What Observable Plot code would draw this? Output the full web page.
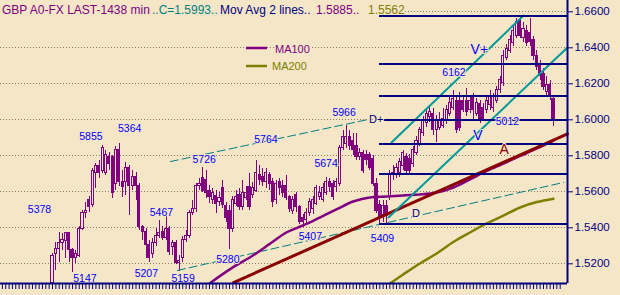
<!DOCTYPE html>
<html><head><meta charset="utf-8">
<script src="https://cdn.jsdelivr.net/npm/d3@7"></script>
<script src="https://cdn.jsdelivr.net/npm/@observablehq/plot@0.6"></script>
<style>html,body{margin:0;padding:0;background:#F5E6C8;overflow:hidden}</style>
</head><body><div id="chart"></div>
<script>
const BG = "#F5E6C8", PURPLE = "#800080", OLIVE = "#808000", NAVY = "#000080",
      TEAL = "#009999", DTEAL = "#008080", DRED = "#8B0000", BLUE = "#0000FF";

// OHLC per bar (bar index 0..150)
const open = [
1.5096,1.5257,1.5285,1.5313,1.5324,1.5369,1.5274,1.5235,1.5246,1.5396,
1.5485,1.5557,1.5524,1.5707,1.5746,1.5718,1.5707,1.5791,1.5791,1.5646,
1.5835,1.5652,1.5652,1.5730,1.5630,1.5685,1.5635,1.5402,1.5374,1.5302,
1.5257,1.5313,1.5357,1.5374,1.5341,1.5391,1.5291,1.5313,1.5207,1.5235,
1.5330,1.5352,1.5480,1.5502,1.5630,1.5674,1.5663,1.5607,1.5552,1.5574,
1.5541,1.5619,1.5519,1.5496,1.5396,1.5535,1.5580,1.5513,1.5563,1.5624,
1.5580,1.5607,1.5691,1.5685,1.5652,1.5696,1.5657,1.5552,1.5652,1.5630,
1.5635,1.5569,1.5496,1.5580,1.5513,1.5457,1.5441,1.5480,1.5507,1.5535,
1.5569,1.5552,1.5596,1.5652,1.5646,1.5624,1.5646,1.5841,1.5868,1.5902,
1.5885,1.5857,1.5796,1.5813,1.5802,1.5802,1.5785,1.5646,1.5524,1.5469,
1.5519,1.5569,1.5691,1.5696,1.5702,1.5741,1.5791,1.5785,1.5757,1.5818,
1.5868,1.5924,1.5980,1.6013,1.6035,1.5941,1.5957,1.5968,1.5996,1.6035,
1.6068,1.6107,1.6107,1.6107,1.6107,1.6052,1.6124,1.6035,1.6090,1.6068,
1.6052,1.6080,1.6063,1.6107,1.6163,1.6202,1.6346,1.6385,1.6424,1.6468,
1.6552,1.6452,1.6496,1.6485,1.6441,1.6357,1.6307,1.6252,1.6152,1.6191,
1.6118];
const high = [
1.5257,1.5318,1.5374,1.5369,1.5374,1.5374,1.5285,1.5274,1.5407,1.5496,
1.5541,1.5574,1.5730,1.5757,1.5774,1.5857,1.5830,1.5818,1.5802,1.5852,
1.5869,1.5718,1.5763,1.5746,1.5718,1.5707,1.5646,1.5413,1.5396,1.5330,
1.5341,1.5396,1.5441,1.5407,1.5469,1.5407,1.5330,1.5330,1.5246,1.5352,
1.5385,1.5496,1.5552,1.5646,1.5674,1.5735,1.5718,1.5635,1.5619,1.5607,
1.5596,1.5663,1.5541,1.5524,1.5574,1.5607,1.5619,1.5663,1.5630,1.5702,
1.5652,1.5774,1.5746,1.5730,1.5730,1.5707,1.5674,1.5663,1.5674,1.5663,
1.5691,1.5580,1.5574,1.5596,1.5524,1.5474,1.5507,1.5563,1.5574,1.5635,
1.5630,1.5646,1.5680,1.5674,1.5663,1.5674,1.5857,1.5941,1.5968,1.5941,
1.5924,1.5924,1.5841,1.5830,1.5830,1.5818,1.5802,1.5674,1.5552,1.5552,
1.5552,1.5718,1.5746,1.5757,1.5785,1.5830,1.5813,1.5807,1.5852,1.5907,
1.5957,1.6018,1.6063,1.6080,1.6063,1.6024,1.6041,1.6063,1.6080,1.6124,
1.6163,1.6130,1.6152,1.6135,1.6174,1.6135,1.6146,1.6118,1.6107,1.6090,
1.6135,1.6163,1.6146,1.6185,1.6241,1.6385,1.6418,1.6468,1.6518,1.6563,
1.6580,1.6541,1.6524,1.6563,1.6463,1.6385,1.6330,1.6285,1.6241,1.6219,
1.6135];
const low = [
1.5091,1.5163,1.5207,1.5274,1.5230,1.5207,1.5152,1.5202,1.5235,1.5385,
1.5452,1.5485,1.5513,1.5619,1.5674,1.5702,1.5691,1.5718,1.5563,1.5607,
1.5630,1.5569,1.5580,1.5469,1.5607,1.5552,1.5385,1.5330,1.5230,1.5207,
1.5230,1.5296,1.5341,1.5330,1.5330,1.5246,1.5246,1.5196,1.5157,1.5207,
1.5318,1.5341,1.5469,1.5485,1.5607,1.5596,1.5563,1.5535,1.5530,1.5480,
1.5519,1.5507,1.5430,1.5280,1.5374,1.5519,1.5496,1.5496,1.5552,1.5496,
1.5563,1.5596,1.5635,1.5630,1.5619,1.5607,1.5513,1.5530,1.5580,1.5569,
1.5552,1.5485,1.5474,1.5485,1.5419,1.5402,1.5424,1.5463,1.5474,1.5524,
1.5552,1.5541,1.5580,1.5596,1.5552,1.5596,1.5630,1.5830,1.5841,1.5830,
1.5802,1.5774,1.5774,1.5702,1.5746,1.5718,1.5630,1.5480,1.5413,1.5430,
1.5424,1.5552,1.5663,1.5674,1.5680,1.5718,1.5696,1.5702,1.5735,1.5802,
1.5852,1.5907,1.5957,1.5985,1.5913,1.5874,1.5941,1.5952,1.5974,1.6018,
1.6052,1.5924,1.5935,1.6041,1.6018,1.6035,1.5996,1.6018,1.5980,1.5996,
1.6035,1.6052,1.6041,1.6090,1.6146,1.6185,1.6330,1.6368,1.6407,1.6452,
1.6452,1.6430,1.6407,1.6407,1.6330,1.6274,1.6219,1.6163,1.6135,1.6107,
1.5963];
const close = [
1.5246,1.5280,1.5318,1.5330,1.5369,1.5274,1.5235,1.5252,1.5396,1.5485,
1.5496,1.5513,1.5718,1.5746,1.5707,1.5846,1.5802,1.5757,1.5591,1.5830,
1.5657,1.5624,1.5735,1.5630,1.5685,1.5630,1.5402,1.5374,1.5302,1.5235,
1.5313,1.5357,1.5369,1.5346,1.5391,1.5263,1.5313,1.5207,1.5218,1.5330,
1.5357,1.5480,1.5507,1.5630,1.5646,1.5607,1.5591,1.5569,1.5591,1.5535,
1.5563,1.5524,1.5452,1.5396,1.5552,1.5569,1.5513,1.5596,1.5591,1.5513,
1.5619,1.5702,1.5668,1.5657,1.5707,1.5646,1.5541,1.5646,1.5619,1.5596,
1.5563,1.5507,1.5552,1.5513,1.5430,1.5430,1.5485,1.5541,1.5552,1.5619,
1.5596,1.5619,1.5652,1.5624,1.5569,1.5652,1.5841,1.5902,1.5902,1.5857,
1.5830,1.5791,1.5818,1.5718,1.5774,1.5735,1.5646,1.5496,1.5457,1.5519,
1.5463,1.5696,1.5707,1.5730,1.5768,1.5813,1.5713,1.5718,1.5830,1.5885,
1.5941,1.5996,1.6035,1.6041,1.5941,1.5996,1.5996,1.6007,1.6052,1.6096,
1.6118,1.5941,1.5952,1.6052,1.6041,1.6107,1.6052,1.6096,1.6007,1.6007,
1.6107,1.6135,1.6124,1.6163,1.6219,1.6357,1.6396,1.6441,1.6496,1.6541,
1.6468,1.6507,1.6424,1.6430,1.6352,1.6296,1.6241,1.6180,1.6191,1.6130,
1.5993];

// moving averages (bar index, value)
const ma100Idx = [47,54,60,65,70,75,80,85,90,95,100,105,110,115,120,125,130,135,140,145,150];
const ma100Val = [1.5091,1.5180,1.5246,1.5310,1.5374,1.5413,1.5457,1.5502,1.5546,1.5569,1.5574,1.5580,1.5585,1.5596,1.5624,1.5669,1.5716,1.5757,1.5799,1.5841,1.5885];
const ma200Idx = [101,105,110,115,120,125,130,135,140,145,150];
const ma200Val = [1.5091,1.5141,1.5202,1.5257,1.5321,1.5374,1.5424,1.5468,1.5513,1.5543,1.5562];

// drawn trend lines (bar index, value)
const redIdx = [54.2, 154.19],   redVal = [1.5096, 1.5922];
const chanUpIdx = [101.5, 141.0], chanUpVal = [1.5874, 1.6579];
const chanLoIdx = [100.6, 154.19], chanLoVal = [1.5457, 1.6402];
const dashUpIdx = [35.3, 94.6],   dashUpVal = [1.5768, 1.6002];
const dashLoIdx = [37.4, 153.0],  dashLoVal = [1.5163, 1.5652];
const levels = [1.6579, 1.6311, 1.6135, 1.6000, 1.5863, 1.5698, 1.5422];
const levelStart = 98, levelEnd = 154.19;

// annotations
const labText = ["5378","5855","5364","5147","5207","5467","5159","5726","5280","5764","5407","5674","5966","5409","6162","5012"];
const labIdx  = [-3.9, 11.5, 23.1, 9.7, 28.1, 32.6, 39.1, 45.4, 52.5, 63.9, 77.2, 81.9, 87.3, 98.8, 120.2, 136.2];
const labVal  = [1.5502,1.5905,1.5952,1.5116,1.5146,1.5485,1.5116,1.5780,1.5224,1.5891,1.5349,1.5755,1.6038,1.5341,1.6263,1.5988];
const bigText = ["V+","V","A"], bigIdx = [127.8,127.4,135.2], bigVal = [1.6391,1.5915,1.5835], bigColor = [BLUE,BLUE,DRED];
const dText = ["D","D+"], dIdx = [108.8, 96.9], dVal = [1.5480, 1.6000];

// axes
const yTicks = [1.52,1.54,1.56,1.58,1.60,1.62,1.64,1.66];
const combTicks = d3.range(-15, 153);
const xDomain = [-15.57, 154.19], yDomain = [1.50906, 1.66628];

const bars = open.map((o, i) => ({i, open: o, high: high[i], low: low[i], close: close[i]}));
const up = bars.filter(d => d.close >= d.open), down = bars.filter(d => d.close < d.open);
const pline = (idx, val, opts) => Plot.line(idx, {x: d => d, y: (d, k) => val[k], ...opts});
const FONT = "'Liberation Sans', Arial, sans-serif";

const chart = Plot.plot({
  width: 620, height: 295,
  marginLeft: 0, marginRight: 53, marginTop: 0, marginBottom: 12,
  style: {background: BG, color: NAVY, fontFamily: FONT, fontSize: "11.5px"},
  x: {domain: xDomain, axis: "bottom", ticks: combTicks, tickFormat: () => "", tickSize: 6, label: null},
  y: {domain: yDomain, axis: "right", ticks: yTicks, tickFormat: d => d.toFixed(4), tickSize: 5, tickPadding: 2, label: null},
  marks: [
    Plot.ruleY(yTicks, {stroke: "#8C7B66", strokeDasharray: "1,2", shapeRendering: "crispEdges"}),
    Plot.ruleX(bars, {x: "i", y1: "low", y2: "high", stroke: PURPLE, strokeWidth: 1, shapeRendering: "crispEdges"}),
    Plot.rect(up, {x1: d => d.i - 0.32, x2: d => d.i + 0.32, y1: "open", y2: "close", fill: BG, stroke: PURPLE, strokeWidth: 1, shapeRendering: "crispEdges"}),
    Plot.rect(down, {x1: d => d.i - 0.32, x2: d => d.i + 0.32, y1: "open", y2: "close", fill: PURPLE, stroke: PURPLE, strokeWidth: 1, shapeRendering: "crispEdges"}),
    pline(dashUpIdx, dashUpVal, {stroke: DTEAL, strokeWidth: 1, strokeDasharray: "8,4"}),
    pline(dashLoIdx, dashLoVal, {stroke: DTEAL, strokeWidth: 1, strokeDasharray: "8,4"}),
    pline(ma200Idx, ma200Val, {stroke: OLIVE, strokeWidth: 2.5, curve: "monotone-x"}),
    pline(ma100Idx, ma100Val, {stroke: PURPLE, strokeWidth: 2.5, curve: "monotone-x"}),
    pline(redIdx, redVal, {stroke: DRED, strokeWidth: 3}),
    pline(chanUpIdx, chanUpVal, {stroke: TEAL, strokeWidth: 2}),
    pline(chanLoIdx, chanLoVal, {stroke: TEAL, strokeWidth: 2}),
    Plot.ruleY(levels, {x1: levelStart, x2: levelEnd, stroke: NAVY, strokeWidth: 2, shapeRendering: "crispEdges"}),
    Plot.text(labText, {x: (d, k) => labIdx[k], y: (d, k) => labVal[k], text: d => d, fill: BLUE, stroke: BG, strokeWidth: 2, paintOrder: "stroke", fontSize: 10.5}),
    Plot.text(bigText, {x: (d, k) => bigIdx[k], y: (d, k) => bigVal[k], text: d => d, fill: (d, k) => bigColor[k], stroke: BG, strokeWidth: 2, paintOrder: "stroke", fontSize: 14}),
    Plot.text(dText, {x: (d, k) => dIdx[k], y: (d, k) => dVal[k], text: d => d, fill: NAVY, stroke: BG, strokeWidth: 2, paintOrder: "stroke", fontSize: 11}),
    Plot.ruleX([xDomain[1]], {stroke: NAVY, strokeWidth: 2}),
    Plot.ruleY([yDomain[0]], {stroke: NAVY, strokeWidth: 2})
  ]
});
document.getElementById("chart").appendChild(chart);

const svg = d3.select(chart);
// header line
svg.append("rect").attr("x", 0).attr("y", 2).attr("width", 405).attr("height", 11.5).attr("fill", BG);
const title = svg.append("text").attr("y", 14).attr("font-size", 12)
  .attr("text-anchor", "start").attr("font-family", FONT);
const titleParts = [
  ["GBP A0-FX LAST-1438 min", 2, PURPLE],
  ["..C=1.5993..", 152, DTEAL],
  ["Mov Avg 2 lines..", 220, NAVY],
  ["1.5885..", 316, PURPLE],
  ["1.5562", 368, OLIVE]
];
titleParts.forEach(([t, x, c]) => title.append("tspan").attr("x", x).attr("fill", c).text(t));

// legend
const legend = [["MA100", PURPLE, 48, 275, 53], ["MA200", OLIVE, 66, 272, 70]];
legend.forEach(([t, c, ly, tx, ty]) => {
  svg.append("line").attr("x1", 246).attr("x2", 267).attr("y1", ly).attr("y2", ly)
    .attr("stroke", c).attr("stroke-width", 2.5);
  svg.append("text").attr("x", tx).attr("y", ty).attr("fill", c).attr("font-size", 11)
    .attr("text-anchor", "start")
    .attr("stroke", BG).attr("stroke-width", 3).attr("paint-order", "stroke")
    .attr("font-family", FONT).text(t);
});
</script></body></html>
